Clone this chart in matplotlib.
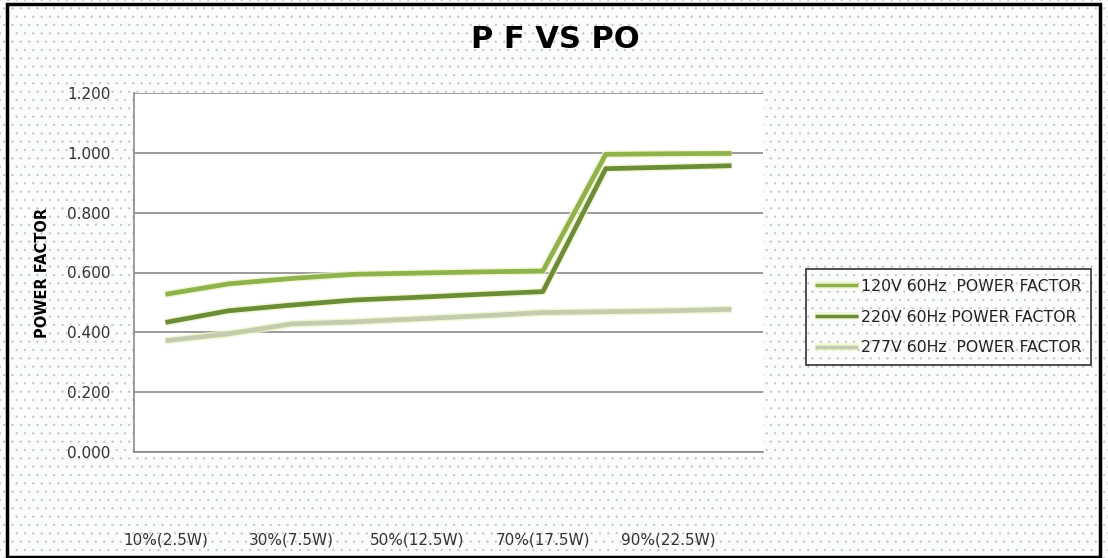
import matplotlib
matplotlib.use("Agg")
import matplotlib.pyplot as plt
from matplotlib.patches import Rectangle
import matplotlib.patheffects as pe

categories = ["10%(2.5W)", "20%(5W)", "30%(7.5W)", "40%(10W)", "50%(12.5W)",
              "60%(15W)", "70%(17.5W)", "80%(20W)", "90%(22.5W)", "100%(25W)"]
shown_labels = ["10%(2.5W)", "30%(7.5W)", "50%(12.5W)", "70%(17.5W)", "90%(22.5W)"]
pf_120v = [0.527, 0.562, 0.580, 0.594, 0.598, 0.602, 0.605, 0.995, 0.997, 0.998]
pf_220v = [0.433, 0.472, 0.491, 0.508, 0.517, 0.527, 0.536, 0.947, 0.952, 0.957]
pf_277v = [0.372, 0.395, 0.428, 0.435, 0.445, 0.455, 0.466, 0.469, 0.472, 0.477]
series_names = ["120V 60Hz  POWER FACTOR", "220V 60Hz POWER FACTOR", "277V 60Hz  POWER FACTOR"]
y_ticks = [0.0, 0.2, 0.4, 0.6, 0.8, 1.0, 1.2]

W, H = 1108, 558
plt.rcParams['hatch.linewidth'] = 0.4
fig = plt.figure(figsize=(W / 100, H / 100), dpi=100)
fig.patch.set_facecolor("white")

# dotted background
bg = Rectangle((0, 0), 1, 1, transform=fig.transFigure, facecolor="#fbfcfc",
               edgecolor="#c2c5c5", hatch="..", linewidth=0, zorder=-10)
fig.patches.append(bg)
# black outer border
border = Rectangle((7 / W, 1 - 557 / H), (1100 - 7) / W, (557 - 4) / H,
                   transform=fig.transFigure, fill=False, edgecolor="black",
                   linewidth=2.5, zorder=-5)
fig.patches.append(border)

ax = fig.add_axes([134 / W, 1 - 452 / H, 629 / W, (452 - 93) / H])
ax.set_facecolor("white")

x = list(range(len(categories)))
styles = [
    (pf_120v, "#8fb24e"),
    (pf_220v, "#6c8c3a"),
    (pf_277v, "#c3ccae"),
]
handles = []
for (vals, col), name in zip(styles, series_names):
    h, = ax.plot(x, vals, color=col, linewidth=3.4, solid_capstyle="butt",
                 label=name, zorder=3,
                 path_effects=[pe.Stroke(linewidth=5.5, foreground="#eef5c8", alpha=0.8),
                               pe.Normal()])
    handles.append(h)

ax.set_xlim(-0.5, len(categories) - 0.5)
ax.set_ylim(0, 1.2)
ax.set_yticks(y_ticks)
ax.set_yticklabels([f"{v:.3f}" for v in y_ticks], fontsize=11, color="#333333")
ax.yaxis.grid(True, color="#8a8a8a", linewidth=1.2)
ax.set_axisbelow(True)
ax.tick_params(axis="y", length=0, pad=17)

ax.set_xticks([categories.index(c) for c in shown_labels])
ax.set_xticklabels(shown_labels, fontsize=11, color="#333333")
ax.tick_params(axis="x", length=0, pad=58)

for s in ["top", "right"]:
    ax.spines[s].set_visible(False)
for s in ["left", "bottom"]:
    ax.spines[s].set_color("#8a8a8a")
    ax.spines[s].set_linewidth(1.2)

ax.set_ylabel("POWER FACTOR", fontsize=10.5, fontweight="bold")
ax.yaxis.set_label_coords(-(134 - 50) / 629, 0.5)

fig.text(555 / W, 1 - 40 / H, "P F VS PO", fontsize=22, fontweight="bold",
         ha="center", va="center")

leg = ax.legend(handles=handles, loc="center left",
                bbox_to_anchor=(798 / W, 1 - 317 / H), bbox_transform=fig.transFigure,
                fontsize=11.3, frameon=True, fancybox=False, handlelength=2.7,
                handletextpad=0.2, labelspacing=1.0, borderpad=0.6)
leg.get_frame().set_edgecolor("black")
leg.get_frame().set_linewidth(1.2)
leg.get_frame().set_facecolor("none")
for lh in leg.get_lines():
    lh.set_linewidth(2.5)
for t in leg.get_texts():
    t.set_color("#222222")

fig.savefig("out.png", dpi=100)
